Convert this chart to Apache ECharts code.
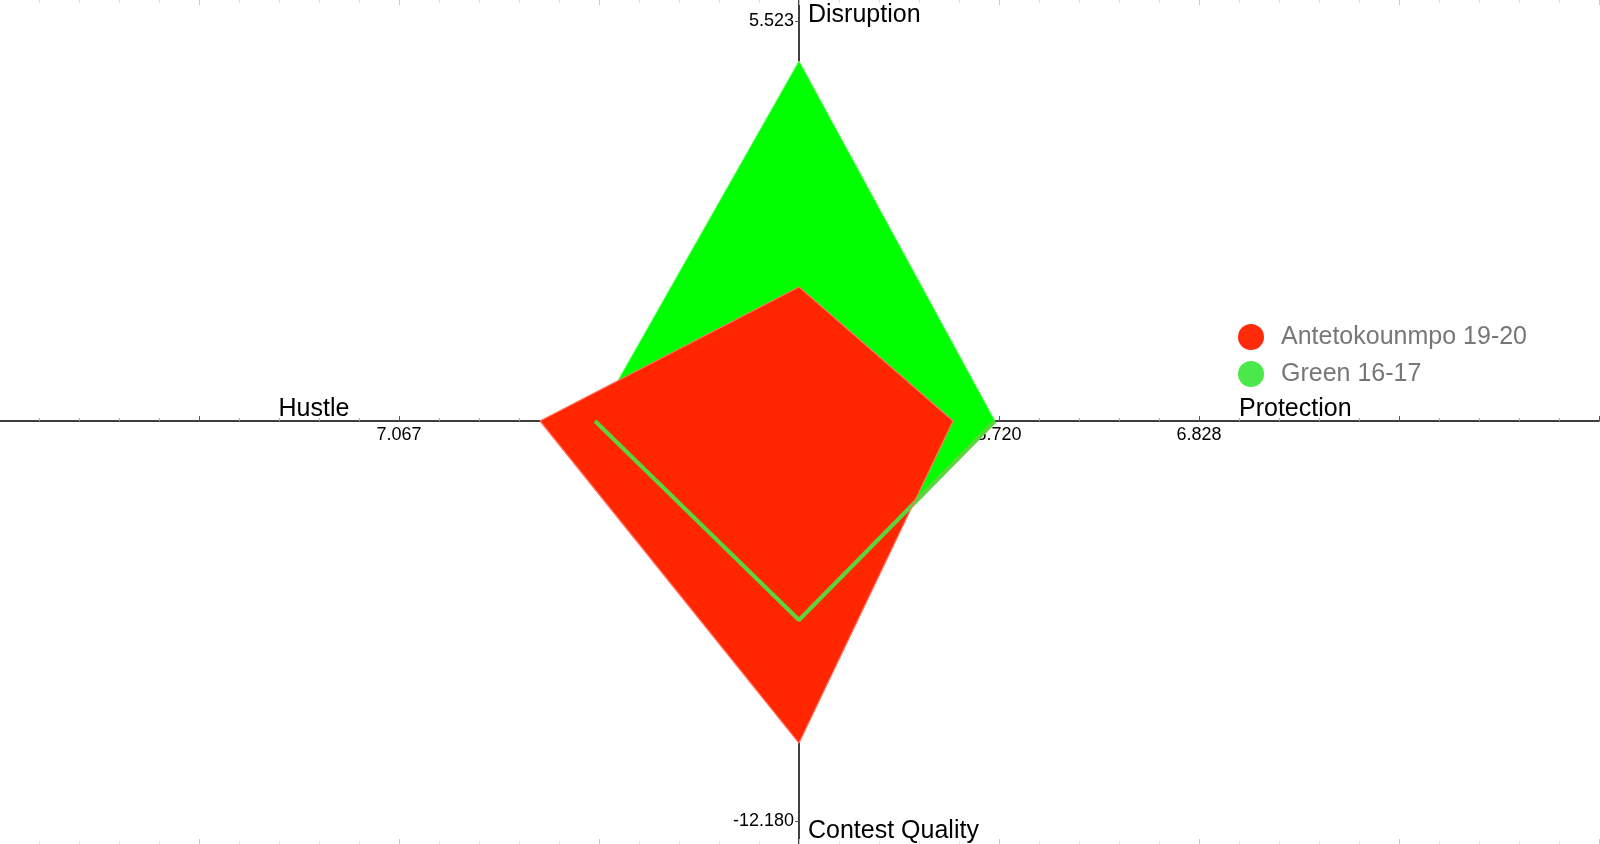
<!DOCTYPE html>
<html>
<head>
<meta charset="utf-8">
<title>Defensive profile</title>
<script src="https://cdn.jsdelivr.net/npm/echarts@6/dist/echarts.min.js"></script>
<style>
  html, body { margin: 0; padding: 0; background: #fff; }
  #main { width: 1600px; height: 844px; }
</style>
</head>
<body>
<div id="main"></div>
<script>
// axes of the profile, going round: up, left, down, right
var axisNames = ['Disruption', 'Hustle', 'Contest Quality', 'Protection'];
// value at the centre and value at the labelled outer tick of each axis
var axisStart = [0, 0, 0, 4.612];
var axisEnd = [5.523, 7.067, -12.180, 6.828];

var players = ['Antetokounmpo 19-20', 'Green 16-17'];
var antetokounmpo = [1.850, 4.576, -9.805, 5.465];
var green = [4.971, 3.604, -6.060, 5.698];

var FONT = 'Liberation Sans, Arial, sans-serif';
var R = 400; // length of the labelled part of each axis, in plot units

function radius(i, v) {
  return (v - axisStart[i]) / (axisEnd[i] - axisStart[i]) * R;
}
function axisValue(i, r) {
  return (axisStart[i] + (axisEnd[i] - axisStart[i]) * r / R).toFixed(3);
}
// upper half (left -> up -> right) and lower half (left -> down -> right)
function halves(vals) {
  var up = radius(0, vals[0]), left = radius(1, vals[1]),
      down = radius(2, vals[2]), right = radius(3, vals[3]);
  return {
    upper: [[-left, 0], [0, up], [right, 0]],
    lower: [[-left, 0], [0, -down], [right, 0]]
  };
}

var redShape = halves(antetokounmpo);
var greenShape = halves(green);

var myChart = echarts.init(document.getElementById('main'));

// faint tick rows along the top and bottom edges
function edgeAxis(pos) {
  return {
    type: 'value', gridIndex: 1, position: pos, min: -800, max: 800, interval: 200,
    axisLine: { show: false, onZero: false },
    axisTick: { show: true, inside: true, length: 5, lineStyle: { color: '#c8c8c8' } },
    minorTick: { show: true, splitNumber: 5, length: 3, lineStyle: { color: '#dedede' } },
    splitLine: { show: false },
    axisLabel: { show: false }
  };
}

myChart.setOption({
  animation: false,
  backgroundColor: '#fff',
  grid: [
    // plot area, centre at (799, 421)
    { left: -1, right: 1, top: -179, bottom: -177, outerBoundsMode: 'none' },
    { left: -1, right: 1, top: 0, bottom: 0, outerBoundsMode: 'none' },
    // horizontal cross axis sits on the bottom edge of this one
    { left: -1, right: 1, top: 0, height: 421, outerBoundsMode: 'none' },
    // vertical cross axis sits on the left edge of this one
    { left: 799, right: 0, top: -179, bottom: -177, outerBoundsMode: 'none' }
  ],
  xAxis: [
    { type: 'value', gridIndex: 0, min: -800, max: 800, show: false },
    edgeAxis('top'),
    edgeAxis('bottom'),
    {
      type: 'value', gridIndex: 2, position: 'bottom', min: -800, max: 800, interval: 200,
      axisLine: { onZero: false, lineStyle: { color: '#000', width: 1.5 } },
      axisTick: { show: true, inside: true, length: 5, lineStyle: { color: '#555' } },
      minorTick: { show: true, splitNumber: 5, length: 3, lineStyle: { color: '#aaa' } },
      splitLine: { show: false },
      axisLabel: {
        margin: 5, fontSize: 18, color: '#000', fontFamily: FONT,
        formatter: function (v) {
          if (v === -400 || v === -200) return axisValue(1, -v);
          if (v === 200 || v === 400) return axisValue(3, v);
          return '';
        }
      }
    },
    { type: 'value', gridIndex: 3, min: 0, max: 1, show: false }
  ],
  yAxis: [
    { type: 'value', gridIndex: 0, min: -600, max: 600, show: false },
    { type: 'value', gridIndex: 1, min: 0, max: 1, show: false },
    { type: 'value', gridIndex: 2, min: 0, max: 1, show: false },
    {
      type: 'value', gridIndex: 3, position: 'left', min: -600, max: 600, interval: 200,
      axisLine: { onZero: false, lineStyle: { color: '#000', width: 1.5 } },
      axisTick: { show: true, length: 4, lineStyle: { color: '#555' } },
      splitLine: { show: false },
      axisLabel: {
        margin: 5, fontSize: 18, color: '#000', fontFamily: FONT,
        formatter: function (v) {
          if (v === 200 || v === 400) return axisValue(0, v);
          if (v === -200 || v === -400) return axisValue(2, -v);
          return '';
        }
      }
    }
  ],
  legend: {
    orient: 'vertical', left: 1233, top: 319,
    icon: 'circle', itemWidth: 50, itemHeight: 26, itemGap: 11,
    textStyle: { fontSize: 25, color: '#777', fontFamily: FONT },
    data: [
      { name: players[0], itemStyle: { color: '#ff2a0a', borderWidth: 0 } },
      { name: players[1], itemStyle: { color: '#4ae84a', borderWidth: 0 } }
    ]
  },
  graphic: [
    { type: 'text', x: 808, y: 15, style: { text: axisNames[0], fontSize: 25, fill: '#000', fontFamily: FONT, align: 'left', verticalAlign: 'middle' } },
    { type: 'text', x: 314, y: 409, style: { text: axisNames[1], fontSize: 25, fill: '#000', fontFamily: FONT, align: 'center', verticalAlign: 'middle' } },
    { type: 'text', x: 808, y: 831, style: { text: axisNames[2], fontSize: 25, fill: '#000', fontFamily: FONT, align: 'left', verticalAlign: 'middle' } },
    { type: 'text', x: 1239, y: 409, style: { text: axisNames[3], fontSize: 25, fill: '#000', fontFamily: FONT, align: 'left', verticalAlign: 'middle' } }
  ],
  series: [{
    name: players[1], type: 'line', z: 1, data: greenShape.upper,
    showSymbol: false, silent: true,
    itemStyle: { color: '#4ae84a' },
    lineStyle: { color: '#6cff6c', width: 1 },
    areaStyle: { color: '#00ff00', opacity: 1 }
  }, {
    name: players[1], type: 'line', z: 2, data: greenShape.lower,
    showSymbol: false, silent: true,
    itemStyle: { color: '#4ae84a' },
    lineStyle: { color: '#5cd43e', width: 4 },
    areaStyle: { color: '#00ff00', opacity: 1 }
  }, {
    name: players[0], type: 'line', z: 2, data: redShape.upper,
    showSymbol: false, silent: true,
    itemStyle: { color: '#ff2a0a' },
    lineStyle: { color: '#ff7464', width: 1.2 },
    areaStyle: { color: '#ff2600', opacity: 1 }
  }, {
    name: players[0], type: 'line', z: 2, data: redShape.lower,
    showSymbol: false, silent: true,
    itemStyle: { color: '#ff2a0a' },
    lineStyle: { color: '#ff7464', width: 1.2 },
    areaStyle: { color: '#ff2600', opacity: 1 }
  }]
});
</script>
</body>
</html>
